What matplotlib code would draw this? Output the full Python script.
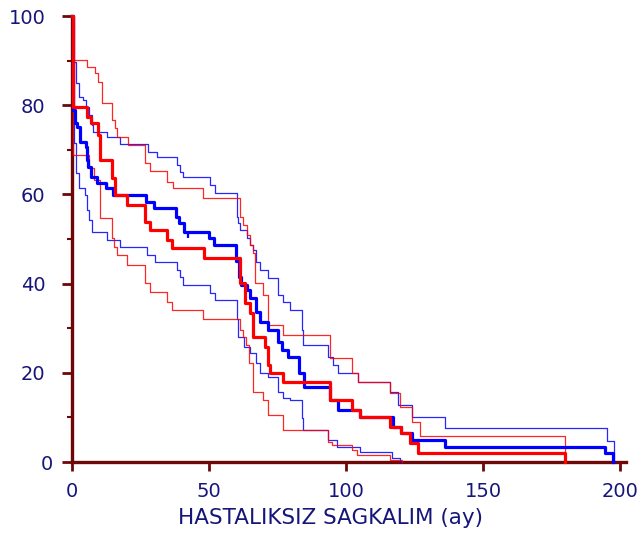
import numpy as np
import matplotlib.pyplot as plt
from matplotlib.ticker import MultipleLocator
from matplotlib.transforms import ScaledTranslation

plt.rcParams['font.family'] = ['DejaVu Sans']

# Kaplan-Meier estimate, group 1 (blue)
blue_t = [0, 0.5, 1, 2, 3, 5, 5.5, 6, 7, 9, 12.5, 15, 27, 30, 38, 39, 41, 50, 52,
          60, 61, 61.5, 64, 65, 67, 68.5, 71.5, 75, 76.5, 79, 83, 84.5, 94, 97,
          105, 117, 120, 124, 136, 194.5, 197.5]
blue_s = [100, 79, 76, 75.1, 71.7, 70.6, 67.7, 66.1, 63.9, 62.6, 61.4, 59.9, 58.3,
          56.9, 55.0, 53.6, 51.6, 50.2, 48.7, 45, 41.5, 39.7, 38.6, 36.8, 33.6,
          31.4, 29.6, 26.9, 25.1, 23.5, 20.0, 16.8, 13.9, 11.7, 10.1, 7.8, 6.5,
          4.9, 3.4, 2.0, 0]

# 95% confidence limits, group 1
blue_up_t = [0, 0.5, 1.3, 2.6, 4, 5.1, 6.2, 7.3, 7.7, 12.8, 17.5, 27.7, 31, 38.3,
             39.4, 40.5, 50.4, 52.2, 60.2, 60.5, 61.3, 64, 65, 66, 67, 68.6, 71.5,
             75.2, 77, 79.6, 84, 84.3, 93.4, 95.3, 97, 104.4, 116, 119, 124, 136,
             195.3, 197.8]
blue_up_s = [100, 89.7, 85, 81.8, 81.2, 79.6, 77.8, 75.6, 74, 72.9, 71.3, 69.5,
             68.4, 66.6, 65, 63.9, 62.1, 60.3, 55, 53.6, 52, 50.2, 48.7, 47.5,
             44.8, 43, 41.3, 37.4, 35.9, 34.1, 29.6, 26.2, 23.5, 21.7, 20, 17.9,
             15.7, 12.8, 10.1, 7.6, 4.7, 0]
blue_lo_t = [0, 0.7, 1.5, 2.5, 4.7, 5.5, 6.2, 7.3, 12.8, 17.5, 27.4, 30.3, 38.3,
             39.4, 40.5, 50.4, 52.2, 60.2, 60.6, 62.7, 65, 67, 68.6, 71.5, 75.2,
             77, 79.6, 83.9, 84.3, 93.4, 96.7, 105, 116.8, 119.7]
blue_lo_s = [100, 71.5, 64.8, 61.4, 59.9, 56.5, 54.3, 51.6, 49.8, 48.2, 46.4, 44.8,
             43, 41.5, 39.7, 37.9, 36.3, 32, 28, 25.8, 24.5, 22.2, 20, 19.1, 15.7,
             14.3, 13.9, 9.9, 7.2, 4.9, 3.4, 2.2, 0.9, 0]

# Kaplan-Meier estimate, group 2 (red)
red_t = [0, 0.3, 5.5, 7, 9.5, 10.2, 14.6, 15.7, 20, 26.5, 28.5, 34.7, 36.5, 48,
         61.3, 63, 65, 66, 70.4, 71.5, 72.3, 77, 94.2, 102.2, 105, 116, 120, 123.4,
         126.3, 180]
red_s = [100, 79.6, 77.4, 76, 73.3, 67.7, 63.7, 59.9, 57.6, 53.8, 52, 49.8, 48,
         45.7, 40.1, 35.7, 33.4, 28, 25.8, 21.7, 20, 17.9, 13.9, 11.7, 10.1, 7.8,
         6.5, 4.3, 2, 0]

# 95% confidence limits, group 2
red_up_t = [0, 0.5, 5.5, 8.4, 9.5, 10.9, 14.6, 15.7, 16.4, 20.4, 26.6, 28.5, 34.7,
            36.9, 47.8, 61.3, 62.4, 63.9, 65, 66, 66.8, 69.7, 71.5, 77, 94.2, 102.2,
            104.4, 116, 119.7, 124, 127, 180]
red_up_s = [100, 90.1, 88.6, 87.2, 85.2, 80.5, 76.7, 74.9, 72.9, 71.1, 67, 65.2,
            62.8, 61.4, 59.2, 54.9, 53.1, 50.9, 48.7, 46.9, 40.1, 37.4, 30.7, 28.5,
            23.3, 20, 17.9, 15.5, 12.3, 9, 5.8, 0]
red_lo_t = [0, 0.3, 6.2, 8, 10.2, 14.6, 15.3, 16.4, 20.1, 26.6, 28.5, 34.7, 36.5,
            47.8, 61.3, 62.4, 63.5, 64.6, 66, 69.7, 71.5, 77, 93.4, 94.9, 102.2,
            104, 116, 120.4]
red_lo_s = [100, 68.8, 65.9, 63.2, 54.7, 50.2, 48.2, 46.4, 44.2, 40.1, 38.1, 35.9,
            34.1, 32, 29.5, 28, 26.2, 22.2, 15.7, 13.9, 10.5, 7.2, 4.5, 3.8, 2.7,
            1.6, 0.4, 0]

# censored observations on the blue curve
blue_cens_t = [12.8, 42.3]
blue_cens_s = [62.6, 51.6]

axis_col = '#6e0808'
text_col = '#16167a'

fig = plt.figure(figsize=(6.39, 5.35), dpi=100)
ax = fig.add_axes([72 / 639, 73 / 535, 553.5 / 639, 446 / 535])

for t, s in [(blue_up_t, blue_up_s), (blue_lo_t, blue_lo_s)]:
    ax.step(t, s, where='post', color='#0000ff', lw=0.9, alpha=0.85, clip_on=False)
for t, s in [(red_up_t, red_up_s), (red_lo_t, red_lo_s)]:
    ax.step(t, s, where='post', color='#ff0000', lw=0.9, alpha=0.85, clip_on=False)

ax.step(blue_t, blue_s, where='post', color='#0000ff', lw=2.3, clip_on=False)
ax.plot(blue_cens_t, blue_cens_s, ls='none', marker=[(0, 0), (0, -1)],
        ms=9, mew=1.6, color='#0000ff')
ax.step(red_t, red_s, where='post', color='#ff0000', lw=2.3, clip_on=False)

ax.set_xlim(0, 202)
ax.set_ylim(0, 100)

for side in ['top', 'right']:
    ax.spines[side].set_visible(False)
for side in ['left', 'bottom']:
    ax.spines[side].set_color(axis_col)
    ax.spines[side].set_linewidth(2.4)
    ax.spines[side].set_zorder(0.5)

ax.set_xticks([0, 50, 100, 150, 200])
ax.set_yticks([0, 20, 40, 60, 80, 100])
ax.yaxis.set_minor_locator(MultipleLocator(10))
ax.tick_params(axis='both', which='major', colors=axis_col, width=2, labelsize=14,
               labelcolor=text_col)
ax.tick_params(axis='y', which='major', length=7, pad=12)
ax.tick_params(axis='y', which='minor', length=3.5, width=1.5, colors=axis_col)
ax.tick_params(axis='x', which='major', length=6.5, pad=8)

# the zero label sits closer to the axis
fig.canvas.draw()
zero_lab = ax.get_yticklabels()[0]
zero_lab.set_transform(zero_lab.get_transform()
                       + ScaledTranslation(7 / 100, 0, fig.dpi_scale_trans))

fig.text(331 / 639, 1 - 518 / 535, 'HASTALIKSIZ SAGKALIM (ay)', ha='center',
         va='center', fontsize=15.5, color=text_col)

fig.savefig('out.png', dpi=100)
